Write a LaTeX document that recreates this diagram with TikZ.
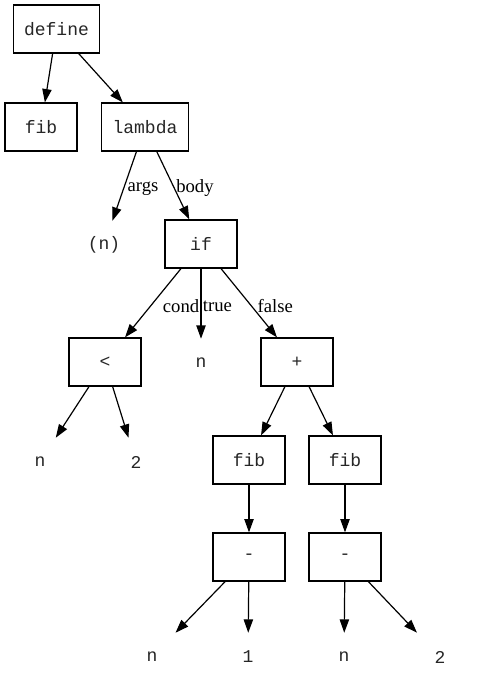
\documentclass[tikz,border=0pt]{standalone}
\usepackage{fontspec}
\setmainfont{Liberation Serif}
\setmonofont{Liberation Mono}
\usetikzlibrary{arrows.meta}

\begin{document}
\begin{tikzpicture}[x=0.75pt,y=-0.75pt,
  box/.style={draw,line width=0.9pt,minimum width=54pt,minimum height=36pt,text=black!85,font=\ttfamily\fontsize{13.5pt}{16pt}\selectfont},
  leaf/.style={minimum width=54pt,minimum height=36pt,text=black!85,font=\ttfamily\fontsize{13.5pt}{16pt}\selectfont},
  edge/.style={line width=0.9pt,-{Triangle[length=10pt,width=7pt]}},
  lbl/.style={midway,right,inner sep=2pt,yshift=-2pt,font=\fontsize{14pt}{16pt}\selectfont}]

  \useasboundingbox (0,0) rectangle (483,684);

  % top of the tree
  \node[box,minimum width=65pt] (define) at (56.5,29) {define};
  \node[box] (fib) at (41,127) {fib};
  \node[box,minimum width=65pt] (lambda) at (145,127) {lambda};
  \node[leaf] (args) at (104,245) {(n)};
  \node[box] (if) at (201,244) {if};

  % branches of the if
  \node[box] (lt) at (105,362) {<};
  \node[leaf] (true) at (201,363) {n};
  \node[box] (plus) at (297,362) {+};
  \node[leaf] (ltn) at (40,462) {n};
  \node[leaf] (lttwo) at (136,462) {2};
  \node[box] (fibl) at (249,460) {fib};
  \node[box] (fibr) at (345,460) {fib};
  \node[box] (subl) at (249,557) {-};
  \node[box] (subr) at (345,557) {-};
  \node[leaf] (nl) at (152,657) {n};
  \node[leaf] (one) at (248,657) {1};
  \node[leaf] (nr) at (344,657) {n};
  \node[leaf] (two) at (440,657) {2};

  \foreach \a/\b in {define/fib,define/lambda,lt/ltn,lt/lttwo,plus/fibl,plus/fibr,
      fibl/subl,fibr/subr,subl/nl,subl/one,subr/nr,subr/two}{% plain edges
    \draw[edge] (\a) -- (\b);}

  \draw[edge] (lambda) -- (args) node[lbl] {args};
  \draw[edge] (lambda) -- (if) node[lbl] {body};
  \draw[edge] (if) -- (lt) node[lbl,xshift=5pt] {cond};
  \draw[edge] (if) -- (true) node[lbl,inner sep=1pt] {true};
  \draw[edge] (if) -- (plus) node[lbl,xshift=4pt] {false};

\end{tikzpicture}
\end{document}
